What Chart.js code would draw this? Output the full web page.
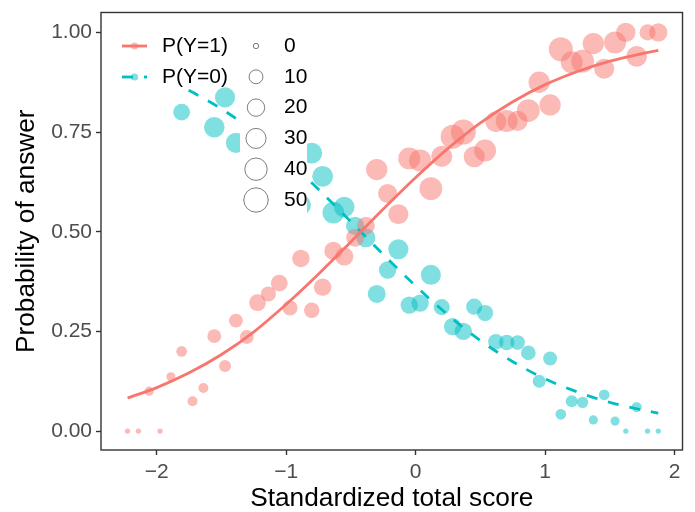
<!DOCTYPE html>
<html>
<head>
<meta charset="utf-8">
<script src="https://cdn.jsdelivr.net/npm/chart.js@4.4.1/dist/chart.umd.min.js"></script>
<style>
  html, body { margin: 0; padding: 0; background: #fff; }
  #wrap { width: 695px; height: 512px; }
</style>
</head>
<body>
<div id="wrap"><canvas id="chart" width="695" height="512"></canvas></div>
<script>
(function () {
	'use strict';

	var RED = '#F8766D', TEAL = '#00BFC4';
	var RED_FILL = 'rgba(248,118,109,0.5)', TEAL_FILL = 'rgba(0,191,196,0.5)';
	var FONT = '"Liberation Sans", Arial, Helvetica, sans-serif';

	// standardized total score of each score group
	var scores = [-2.226, -2.142, -2.059, -1.975, -1.891, -1.808, -1.724, -1.640, -1.556, -1.473,
		-1.389, -1.305, -1.222, -1.138, -1.054, -0.971, -0.887, -0.803, -0.719, -0.636,
		-0.552, -0.468, -0.385, -0.301, -0.217, -0.134, -0.050, 0.034, 0.117, 0.201,
		0.285, 0.368, 0.452, 0.536, 0.619, 0.703, 0.787, 0.870, 0.954, 1.038,
		1.121, 1.205, 1.289, 1.372, 1.456, 1.540, 1.623, 1.707, 1.791, 1.874];

	// empirical proportions per score group (null = not shown)
	var pY1 = [0, 0, 0.10, 0, 0.136, 0.20, 0.075, 0.108, 0.238, 0.163,
		0.277, 0.236, 0.322, 0.344, 0.371, 0.309, 0.433, 0.303, 0.361, 0.452,
		0.438, 0.485, 0.515, 0.656, 0.596, 0.544, 0.684, 0.679, 0.608, 0.689,
		0.738, 0.750, 0.688, 0.704, 0.776, 0.778, 0.778, 0.804, 0.875, 0.818,
		0.958, 0.925, 0.928, 0.972, 0.909, 0.975, 1, 0.940, 1, 1];
	var pY0 = [null, null, null, null, null, 0.80, null, null, 0.762, 0.837,
		0.723, null, null, null, null, null, 0.567, 0.697, 0.639, 0.548,
		0.562, 0.515, 0.485, 0.344, 0.404, 0.456, 0.316, 0.321, 0.392, 0.311,
		0.262, 0.250, 0.312, 0.296, 0.224, 0.222, 0.222, 0.196, 0.125, 0.182,
		0.042, 0.075, 0.072, 0.028, 0.091, 0.025, 0, 0.060, 0, 0];

	// respondents behind each point (drives point size)
	var nY1 = [0, 0, 2, 0, 2, 4, 3, 3, 10, 6,
		10, 10, 18, 13, 18, 13, 20, 14, 20, 23,
		23, 22, 22, 35, 26, 30, 38, 38, 42, 34,
		48, 53, 34, 38, 33, 38, 30, 42, 35, 35,
		48, 38, 42, 35, 30, 38, 27, 33, 16, 23];
	var nY0 = [null, null, null, null, null, 18, null, null, 32, 30,
		30, null, null, null, null, null, 30, 33, 33, 37,
		32, 23, 26, 22, 20, 30, 20, 20, 30, 16,
		20, 20, 16, 16, 14, 14, 12, 12, 8, 10,
		4, 6, 5, 2, 4, 2, 0, 3, 0, 0];

	// fitted logistic curves
	var curveX = [-2.226, -2, -1.75, -1.5, -1.25, -1, -0.75, -0.5, -0.25, 0,
		0.25, 0.5, 0.75, 1, 1.25, 1.5, 1.75, 1.874];
	var fitY1 = [0.083, 0.109, 0.146, 0.192, 0.249, 0.318, 0.394, 0.475, 0.557, 0.636,
		0.709, 0.773, 0.826, 0.869, 0.902, 0.928, 0.947, 0.955];
	var fitY0 = [0.917, 0.891, 0.854, 0.808, 0.751, 0.682, 0.606, 0.525, 0.443, 0.364,
		0.291, 0.227, 0.174, 0.131, 0.098, 0.072, 0.053, 0.045];

	var xTicks = [-2, -1, 0, 1, 2];
	var yTicks = [0, 0.25, 0.5, 0.75, 1];
	var sizeBreaks = [0, 10, 20, 30, 40, 50];
	var seriesNames = ['P(Y=1)', 'P(Y=0)'];
	var N_MAX = 55;

	function radius(n) { return n === null ? 0 : 2.67 + 10 * Math.sqrt(n / N_MAX); }
	function toXY(xs, ys) { return xs.map(function (x, i) { return { x: x, y: ys[i] }; }); }
	function minus(v) { return v < 0 ? '\u2212' + Math.abs(v) : String(v); }

	// panel border, drawn over the data like ggplot's panel.border
	var borderPlugin = {
		id: 'panelBorder',
		afterDraw: function (chart) {
			var a = chart.chartArea, c = chart.ctx;
			c.save();
			c.strokeStyle = '#333333';
			c.lineWidth = 1.4;
			c.strokeRect(a.left, a.top, a.right - a.left, a.bottom - a.top);
			c.restore();
		}
	};

	// colour + size legends inside the panel
	var legendPlugin = {
		id: 'ggLegend',
		afterDatasetsDraw: function (chart) {
			var c = chart.ctx;
			c.save();
			c.fillStyle = '#ffffff';
			c.fillRect(110, 24, 107, 65);
			c.fillRect(240, 24, 67, 191);

			var cols = [RED, TEAL], fills = [RED_FILL, TEAL_FILL];
			c.font = '21px ' + FONT;
			c.textBaseline = 'middle';
			c.textAlign = 'left';
			seriesNames.forEach(function (name, i) {
				var y = 46 + i * 31;
				c.strokeStyle = cols[i];
				c.lineWidth = 2.8;
				c.setLineDash(i === 1 ? [11, 11] : []);
				c.beginPath();
				c.moveTo(122, y);
				c.lineTo(147, y);
				c.stroke();
				c.setLineDash([]);
				c.fillStyle = fills[i];
				c.beginPath();
				c.arc(134.5, y, 3.6, 0, Math.PI * 2);
				c.fill();
				c.fillStyle = '#000000';
				c.fillText(name, 162, y);
			});

			sizeBreaks.forEach(function (b, i) {
				var y = 46 + i * 30.8;
				c.strokeStyle = 'rgba(0,0,0,0.5)';
				c.lineWidth = 1;
				c.beginPath();
				c.arc(256, y, radius(b), 0, Math.PI * 2);
				c.stroke();
				c.fillStyle = '#000000';
				c.fillText(String(b), 284, y);
			});
			c.restore();
		}
	};

	var axisGrid = { drawOnChartArea: false, drawTicks: true, tickLength: 5, tickColor: '#333333', tickWidth: 1.4 };

	new Chart(document.getElementById('chart').getContext('2d'), {
		type: 'scatter',
		data: {
			datasets: [
				{ label: seriesNames[0], data: toXY(curveX, fitY1), showLine: true, pointRadius: 0,
					borderColor: RED, borderWidth: 2.8, cubicInterpolationMode: 'monotone', fill: false },
				{ label: seriesNames[1], data: toXY(curveX, fitY0), showLine: true, pointRadius: 0,
					borderColor: TEAL, borderWidth: 2.8, borderDash: [11, 11], cubicInterpolationMode: 'monotone', fill: false },
				{ label: seriesNames[0], data: toXY(scores, pY1), backgroundColor: RED_FILL, borderWidth: 0,
					pointRadius: function (ctx) { return radius(nY1[ctx.dataIndex]); } },
				{ label: seriesNames[1], data: toXY(scores, pY0), backgroundColor: TEAL_FILL, borderWidth: 0,
					pointRadius: function (ctx) { return radius(nY0[ctx.dataIndex]); } }
			]
		},
		options: {
			responsive: false, animation: false, devicePixelRatio: 1,
			layout: { padding: { top: 11, right: 7, bottom: 0, left: 0 } },
			font: { family: FONT },
			plugins: { legend: { display: false }, tooltip: { enabled: false } },
			scales: {
				x: {
					type: 'linear', min: -2.431, max: 2.061,
					afterBuildTicks: function (s) { s.ticks = xTicks.map(function (v) { return { value: v }; }); },
					afterFit: function (s) { s.height = 62; s.paddingLeft = 0; s.paddingRight = 0; },
					grid: axisGrid, border: { display: false },
					ticks: { color: '#4D4D4D', font: { family: FONT, size: 21 }, padding: 5, maxRotation: 0, autoSkip: false,
						callback: function (v) { return minus(v); } },
					title: { display: true, text: 'Standardized total score', color: '#000000',
						font: { family: FONT, size: 26.25, lineHeight: 1 }, padding: { top: 0, bottom: 0 } }
				},
				y: {
					type: 'linear', min: -0.0475, max: 1.05,
					afterBuildTicks: function (s) { s.ticks = yTicks.map(function (v) { return { value: v }; }); },
					afterFit: function (s) { s.width = 101; s.paddingTop = 0; s.paddingBottom = 0; },
					grid: axisGrid, border: { display: false },
					ticks: { color: '#4D4D4D', font: { family: FONT, size: 21 }, padding: 4, autoSkip: false,
						callback: function (v) { return v.toFixed(2); } },
					title: { display: true, text: 'Probability of answer', color: '#000000',
						font: { family: FONT, size: 26.25, lineHeight: 1.2 }, padding: { top: 11, bottom: 0 } }
				}
			}
		},
		plugins: [legendPlugin, borderPlugin]
	});
}());
</script>
</body>
</html>
